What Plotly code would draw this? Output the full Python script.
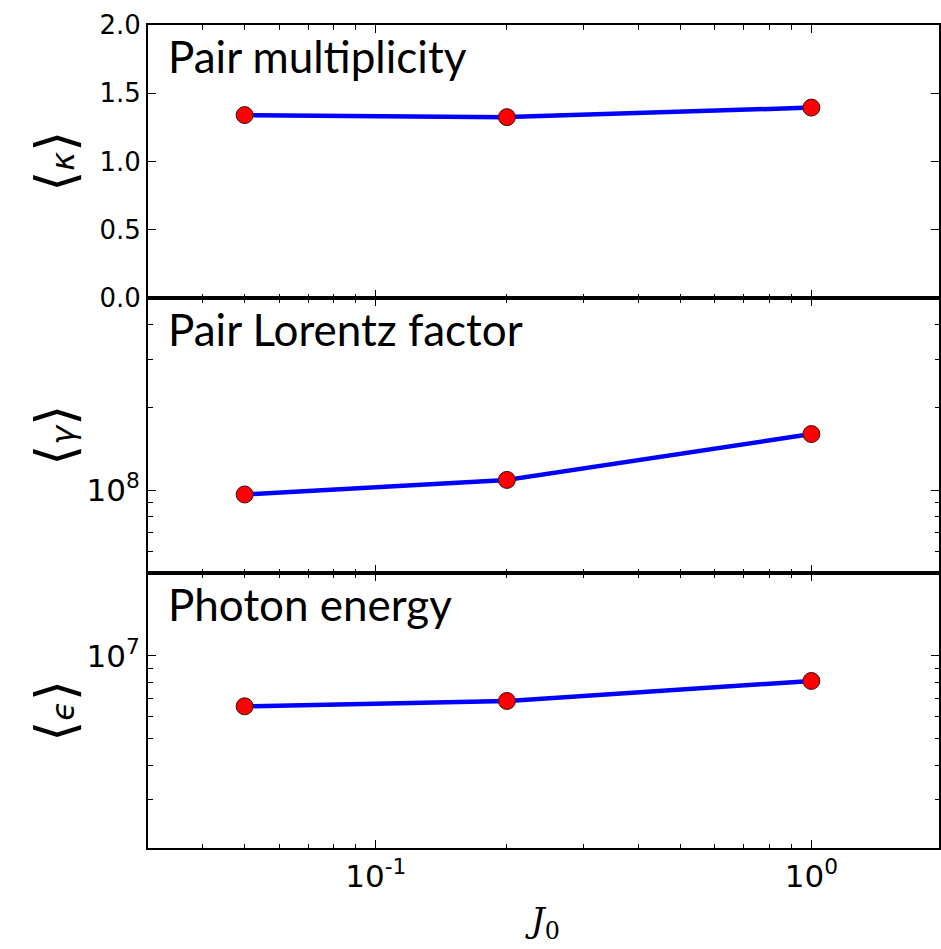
import math
import plotly.graph_objects as go
from plotly.subplots import make_subplots

# Coupling parameter J0 and the three averaged quantities
j0 = [0.05, 0.2, 1.0]
kappa_mean = [1.34, 1.325, 1.395]        # pair multiplicity <kappa>
gamma_mean = [9.65e7, 1.09e8, 1.60e8]    # pair Lorentz factor <gamma>
eps_mean = [6.55e6, 6.85e6, 8.10e6]      # photon energy <epsilon>

panel_titles = ["Pair multiplicity", "Pair Lorentz factor", "Photon energy"]
y_titles = ["\u03ba", "\u03b3", "\u03f5"]

# tick positions and labels
x_major = [0.1, 1.0]
x_major_text = ["10<sup>-1</sup>", "10<sup>0</sup>"]
x_minor = [0.03, 0.04, 0.05, 0.06, 0.07, 0.08, 0.09,
           0.2, 0.3, 0.4, 0.5, 0.6, 0.7, 0.8, 0.9, 2.0]
kappa_ticks = [0.0, 0.5, 1.0, 1.5, 2.0]
gamma_major = [1e8]
gamma_major_text = ["10<sup>8</sup>"]
gamma_minor = [6e7, 7e7, 8e7, 9e7, 2e8, 3e8, 4e8]
eps_major = [1e7]
eps_major_text = ["10<sup>7</sup>"]
eps_minor = [3e6, 4e6, 5e6, 6e6, 7e6, 8e6, 9e6]

W, H = 941, 949
L, R, T, B = 148, 0, 25, 101

fig = make_subplots(rows=3, cols=1, shared_xaxes=True, vertical_spacing=0)

series = [kappa_mean, gamma_mean, eps_mean]
for i, ys in enumerate(series, start=1):
    fig.add_trace(
        go.Scatter(
            x=j0, y=ys, mode="lines+markers",
            line=dict(color="#0000ff", width=4.5),
            marker=dict(color="#ff0000", size=17,
                        line=dict(color="#3a1010", width=1)),
            showlegend=False, cliponaxis=False,
        ),
        row=i, col=1,
    )

axis_common = dict(
    showline=True, linewidth=2, linecolor="black", mirror="allticks",
    ticks="inside", ticklen=8, tickwidth=1.2, tickcolor="black",
    showgrid=False, zeroline=False,
)
base_font = dict(family="DejaVu Sans", size=26, color="black")
pow_font = dict(family="DejaVu Sans", size=31, color="black")


def minor_ticks(vals):
    return dict(tickmode="array", tickvals=vals, ticks="inside", ticklen=4.5,
                tickwidth=1, tickcolor="black", showgrid=False)


# panel heights in pixels: 273 / 275 / 275
plot_h = H - T - B
d1 = 275 / plot_h
d2 = 550 / plot_h
domains = [[d2, 1.0], [d1, d2], [0.0, d1]]

xrange_ = [math.log10(0.03), 0.293]
for i in range(1, 4):
    fig.update_xaxes(
        type="log", range=xrange_, tickmode="array",
        tickvals=x_major, ticktext=x_major_text, tickfont=pow_font,
        showticklabels=(i == 3), minor=minor_ticks(x_minor),
        **axis_common, row=i, col=1,
    )

fig.update_yaxes(range=[0, 2.0], tickmode="array", tickvals=kappa_ticks,
                 tickformat=".1f", tickfont=base_font, domain=domains[0],
                 **axis_common, row=1, col=1)
fig.update_yaxes(type="log", range=[math.log10(5e7), math.log10(5e8)],
                 tickmode="array", tickvals=gamma_major, ticktext=gamma_major_text,
                 tickfont=pow_font, domain=domains[1], minor=minor_ticks(gamma_minor),
                 **axis_common, row=2, col=1)
fig.update_yaxes(type="log", range=[math.log10(2e6), math.log10(2e7)],
                 tickmode="array", tickvals=eps_major, ticktext=eps_major_text,
                 tickfont=pow_font, domain=domains[2], minor=minor_ticks(eps_minor),
                 **axis_common, row=3, col=1)

plot_w = W - L - R
bracket = "<span style='font-size:54px'>{}</span>"
for i, (ttl, ylab) in enumerate(zip(panel_titles, y_titles), start=1):
    yref = "y domain" if i == 1 else f"y{i} domain"
    xref = "x domain" if i == 1 else f"x{i} domain"
    ph = 273 if i == 1 else 275
    fig.add_annotation(
        text=ttl, xref=xref, yref=yref, x=(166 - L) / plot_w, y=1 - 31 / ph,
        xanchor="left", yanchor="middle", showarrow=False,
        font=dict(family="Lato", size=44, color="black"),
    )
    fig.add_annotation(
        text=bracket.format("\u27e8") + "<i>" + ylab + "</i>" + bracket.format("\u27e9"),
        xref="paper", yref=yref, x=(55 - L) / plot_w, y=0.5,
        xanchor="center", yanchor="middle", textangle=-90, showarrow=False,
        font=dict(family="DejaVu Sans", size=32, color="black"),
    )

fig.add_annotation(
    text="<i>J</i><sub>0</sub>", xref="paper", yref="paper",
    x=(543 - L) / plot_w, y=-(923 - (H - B)) / plot_h,
    xanchor="center", yanchor="middle", showarrow=False,
    font=dict(family="DejaVu Serif", size=34, color="black"),
)

fig.update_layout(
    width=W, height=H,
    margin=dict(l=L, r=R, t=T, b=B, pad=0),
    paper_bgcolor="white", plot_bgcolor="white",
)

fig.write_html("out.html")
